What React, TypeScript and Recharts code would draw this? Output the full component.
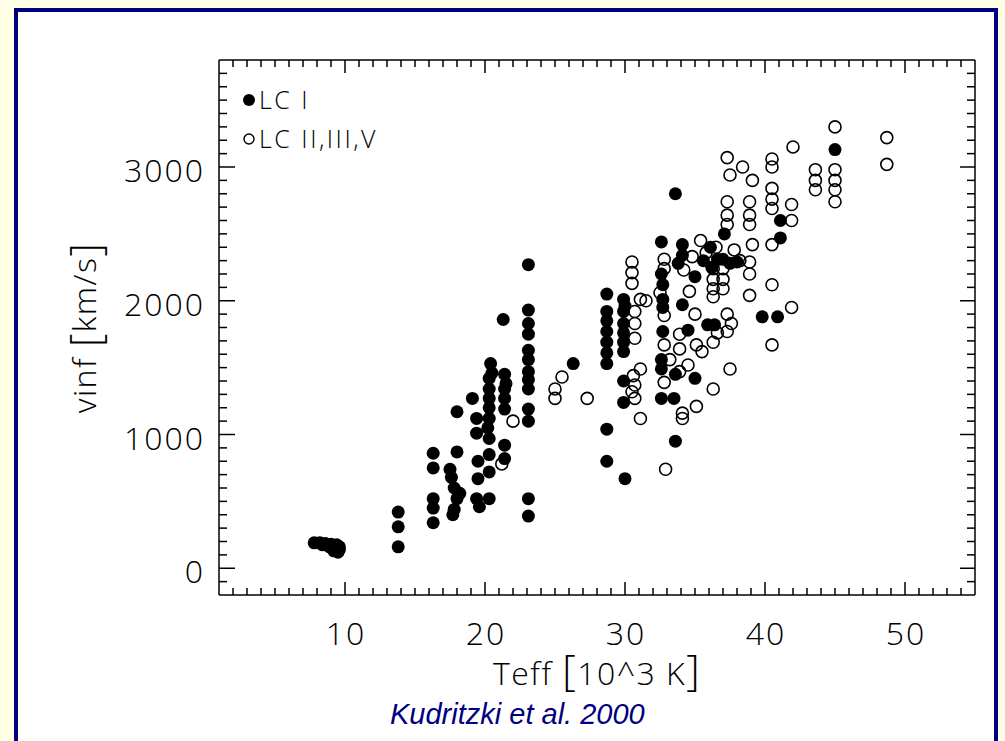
import { ScatterChart, Scatter, XAxis, YAxis, Legend } from "recharts";

// Teff [10^3 K], vinf [km/s]
const lcI: [number, number][] = [
  [7.8, 190], [8.2, 190], [8.4, 175], [8.6, 185], [8.9, 160], [9.0, 180], [9.2, 130], [9.3, 150],
  [9.4, 175], [9.6, 160], [9.6, 140], [9.5, 120],
  [13.8, 420], [13.8, 310], [13.8, 160],
  [16.3, 860], [16.3, 750], [16.3, 520], [16.3, 450], [16.3, 340],
  [17.5, 740], [18.0, 870], [18.0, 1170], [17.6, 680], [17.8, 600], [18.0, 520], [17.8, 440],
  [18.2, 560], [17.7, 400],
  [19.1, 1270], [19.4, 1120], [19.4, 1010], [19.5, 800], [19.5, 670], [19.4, 520], [19.6, 460],
  [20.4, 1530], [20.3, 1420], [20.3, 1340], [20.3, 1270], [20.3, 1200], [20.3, 1120], [20.3, 970],
  [20.3, 850], [20.3, 720], [20.3, 520], [20.5, 1460], [20.2, 1050],
  [21.3, 1860], [21.4, 1450], [21.4, 1340], [21.4, 1270], [21.4, 1190], [21.4, 920], [21.4, 820],
  [21.5, 1380],
  [23.1, 2270], [23.1, 1930], [23.1, 1830], [23.1, 1750], [23.1, 1630], [23.1, 1560], [23.1, 1470],
  [23.1, 1410], [23.1, 1340], [23.1, 1190], [23.1, 1100], [23.1, 520], [23.1, 390],
  [26.3, 1530],
  [28.7, 2050], [28.7, 1920], [28.7, 1850], [28.7, 1770], [28.7, 1690], [28.7, 1610], [28.7, 1530],
  [28.7, 1040], [28.7, 800],
  [30.0, 670], [29.9, 2010], [29.9, 1920], [29.9, 1830], [29.9, 1760], [29.9, 1690], [29.9, 1620],
  [29.9, 1400], [29.9, 1240], [30.0, 1960],
  [33.6, 2800], [32.6, 2440], [32.7, 2120], [32.7, 2010], [32.7, 1770], [32.6, 1560], [32.6, 1490],
  [32.6, 1270], [32.7, 1950], [32.6, 2200], [33.6, 950], [34.1, 2420], [34.1, 2340], [34.1, 1970],
  [35.0, 2180], [36.1, 2400], [36.6, 2310], [37.0, 2310], [37.1, 2500], [33.6, 1450], [35.0, 1420],
  [33.5, 1270], [33.8, 2280], [35.6, 2300], [36.2, 2250], [35.9, 1820], [36.4, 1820], [37.5, 2280],
  [38.0, 2290], [34.5, 1780],
  [41.1, 2600], [41.1, 2470], [39.8, 1880], [40.9, 1880], [45.0, 3130],
];

const lcOther: [number, number][] = [
  [22.0, 1100], [21.2, 780], [25.5, 1430], [25.0, 1340], [25.0, 1270], [27.3, 1270],
  [30.5, 2290], [30.5, 2210], [30.5, 2130], [30.7, 1920], [30.7, 1830], [30.7, 1720], [31.1, 2010],
  [31.1, 1490], [30.7, 1370], [30.7, 1270], [31.1, 1120], [30.5, 1320], [30.6, 1440],
  [32.9, 740], [32.8, 2310], [32.8, 2240], [32.8, 1890], [32.8, 1670], [32.8, 1390], [33.9, 1750],
  [33.9, 1640], [34.6, 2070], [35.4, 2450], [33.9, 1470], [36.3, 1340], [34.1, 1160], [34.1, 1120],
  [35.1, 1210], [35.1, 1670], [35.5, 1620], [36.3, 1690], [37.5, 1490],
  [36.3, 2240], [36.3, 2160], [36.3, 2090], [36.3, 2030], [37.0, 2240], [37.0, 2160], [37.0, 2090],
  [37.3, 2740], [37.3, 2640], [37.3, 2570], [38.9, 2740], [38.9, 2640], [38.9, 2570], [37.3, 3070],
  [37.5, 2940], [38.4, 3000], [39.1, 2900], [40.5, 3060], [40.5, 3000], [40.5, 2840], [40.5, 2760],
  [40.5, 2690], [41.9, 2720], [41.9, 2600], [40.5, 2420], [39.1, 2420], [38.9, 2290], [38.9, 2200],
  [38.9, 2040], [40.5, 2120], [41.9, 1950], [40.5, 1670], [37.3, 1900], [37.3, 1770], [37.6, 1830],
  [45.0, 3300], [45.0, 2980], [45.0, 2900], [45.0, 2830], [45.0, 2740], [43.6, 2980], [43.6, 2900],
  [43.6, 2830], [48.7, 3220], [48.7, 3020], [42.0, 3150],
  [34.8, 2330], [35.8, 2360], [36.5, 2400], [34.2, 2230], [37.8, 2380], [38.2, 2300], [32.5, 2060],
  [31.5, 2000], [35.0, 1900], [36.6, 1760], [33.2, 1560], [34.5, 1520],
];

const seriesNames = ["LC I", "LC II,III,V"];
const xMajor = [10, 20, 30, 40, 50];
const yMajor = [0, 1000, 2000, 3000];
const xDomain = [1, 55];
const yDomain = [-200, 3800];
const xTicks = Array.from({ length: 53 }, (_, i) => i + 2);
const yTicks = Array.from({ length: 39 }, (_, i) => -100 + i * 100);

const FONT = "'Open Sans', 'DejaVu Sans', sans-serif";
const INK = "#000";

const toPoints = (rows: [number, number][]) => rows.map(([x, y]) => ({ x, y }));

function BottomTick({ x, y, payload }: any) {
  const major = xMajor.includes(payload.value);
  return (
    <g>
      <line x1={x} x2={x} y1={y} y2={y - (major ? 13 : 7)} stroke="#000" strokeWidth={1.5} />
      {major && (
        <text x={x + 1} y={y + 50} textAnchor="middle" fontFamily={FONT} fontWeight={300} fontSize={32} letterSpacing={2} fill={INK}>
          {payload.value}
        </text>
      )}
    </g>
  );
}

function TopTick({ x, y, payload }: any) {
  const major = xMajor.includes(payload.value);
  return <line x1={x} x2={x} y1={y} y2={y + (major ? 13 : 7)} stroke="#000" strokeWidth={1.5} />;
}

function LeftTick({ x, y, payload }: any) {
  const major = yMajor.includes(payload.value);
  return (
    <g>
      <line x1={x} x2={x + (major ? 16 : 8)} y1={y} y2={y} stroke="#000" strokeWidth={1.5} />
      {major && (
        <text x={x - 14} y={y + 15} textAnchor="end" fontFamily={FONT} fontWeight={300} fontSize={32} letterSpacing={2} fill={INK}>
          {payload.value}
        </text>
      )}
    </g>
  );
}

function RightTick({ x, y, payload }: any) {
  const major = yMajor.includes(payload.value);
  return <line x1={x} x2={x - (major ? 15 : 8)} y1={y} y2={y} stroke="#000" strokeWidth={1.5} />;
}

function XTitle({ viewBox }: any) {
  const cx = viewBox.x + viewBox.width / 2;
  return (
    <text x={cx} y={viewBox.y + 90} textAnchor="middle" fontFamily={FONT} fontWeight={300} fontSize={32} letterSpacing={1.5} fill={INK}>
      Teff <tspan fontSize={42}>[</tspan>10^3 K<tspan fontSize={42}>]</tspan>
    </text>
  );
}

function YTitle({ viewBox }: any) {
  const cx = viewBox.x + viewBox.width - 136;
  const cy = viewBox.y + viewBox.height / 2;
  return (
    <text
      x={cx}
      y={cy}
      transform={`rotate(-90 ${cx} ${cy})`}
      textAnchor="middle"
      dominantBaseline="central"
      fontFamily={FONT}
      fontWeight={300}
      fontSize={32}
      letterSpacing={1.5}
      fill={INK}
    >
      vinf <tspan fontSize={42}>[</tspan>km/s<tspan fontSize={42}>]</tspan>
    </text>
  );
}

function FilledDot({ cx, cy }: any) {
  return <circle cx={cx} cy={cy} r={6.5} fill="#000" />;
}

function OpenDot({ cx, cy }: any) {
  return <circle cx={cx} cy={cy} r={6} fill="none" stroke="#000" strokeWidth={1.6} />;
}

function NoDot() {
  return <g />;
}

function LegendBox({ payload }: any) {
  const items = (payload || []).filter((p: any) => seriesNames.includes(p.value));
  return (
    <div style={{ fontFamily: FONT, fontWeight: 300, fontSize: 25, letterSpacing: 2.5, color: INK }}>
      {items.map((p: any, i: number) => (
        <div key={i} style={{ display: "flex", alignItems: "center", height: 39 }}>
          <svg width={14} height={14} style={{ display: "block" }}>
            {i === 0 ? (
              <circle cx={7} cy={7} r={6} fill="#000" />
            ) : (
              <circle cx={7} cy={7} r={5} fill="none" stroke="#000" strokeWidth={1.4} />
            )}
          </svg>
          <span style={{ marginLeft: 3, lineHeight: "39px" }}>{p.value}</span>
        </div>
      ))}
    </div>
  );
}

export default function App() {
  return (
    <div
      style={{
        position: "absolute",
        left: 0,
        top: 0,
        width: 1005,
        height: 741,
        overflow: "hidden",
        background: "#FFFFE6",
      }}
    >
      <div
        style={{
          position: "absolute",
          left: 14,
          top: 8,
          width: 984,
          height: 800,
          boxSizing: "border-box",
          border: "4px solid #00007F",
          background: "#fff",
        }}
      />
      <div style={{ position: "absolute", left: 0, top: 0 }}>
        <ScatterChart width={1005} height={741} margin={{ top: 59, right: 29, bottom: 86, left: 139 }}>
          <XAxis
            xAxisId="b"
            type="number"
            dataKey="x"
            domain={xDomain}
            ticks={xTicks}
            interval={0}
            height={60}
            tickSize={0}
            tickMargin={0}
            tickLine={false}
            axisLine={{ stroke: "#000", strokeWidth: 1.5 }}
            tick={BottomTick}
            label={XTitle}
          />
          <XAxis
            xAxisId="t"
            orientation="top"
            type="number"
            dataKey="x"
            domain={xDomain}
            ticks={xTicks}
            interval={0}
            height={1}
            tickSize={0}
            tickMargin={0}
            tickLine={false}
            axisLine={{ stroke: "#000", strokeWidth: 1.5 }}
            tick={TopTick}
          />
          <YAxis
            yAxisId="l"
            type="number"
            dataKey="y"
            domain={yDomain}
            ticks={yTicks}
            interval={0}
            width={80}
            tickSize={0}
            tickMargin={0}
            tickLine={false}
            axisLine={{ stroke: "#000", strokeWidth: 1.5 }}
            tick={LeftTick}
            label={YTitle}
          />
          <YAxis
            yAxisId="r"
            orientation="right"
            type="number"
            dataKey="y"
            domain={yDomain}
            ticks={yTicks}
            interval={0}
            width={1}
            tickSize={0}
            tickMargin={0}
            tickLine={false}
            axisLine={{ stroke: "#000", strokeWidth: 1.5 }}
            tick={RightTick}
          />
          <Legend
            layout="vertical"
            align="center"
            verticalAlign="middle"
            wrapperStyle={{ left: 242, top: 80, width: 220 }}
            content={LegendBox}
          />
          <Scatter
            name={seriesNames[0]}
            data={toPoints(lcI)}
            xAxisId="b"
            yAxisId="l"
            shape={FilledDot}
            isAnimationActive={false}
          />
          <Scatter
            name={seriesNames[1]}
            data={toPoints(lcOther)}
            xAxisId="b"
            yAxisId="l"
            shape={OpenDot}
            isAnimationActive={false}
          />
          <Scatter
            name="frame"
            data={toPoints(lcI)}
            xAxisId="t"
            yAxisId="r"
            shape={NoDot}
            legendType="none"
            isAnimationActive={false}
          />
        </ScatterChart>
      </div>
      <div
        style={{
          position: "absolute",
          left: 390,
          top: 698,
          fontFamily: "'Liberation Sans', Arial, sans-serif",
          fontStyle: "italic",
          fontSize: 29,
          color: "#000080",
          whiteSpace: "nowrap",
        }}
      >
        Kudritzki et al. 2000
      </div>
    </div>
  );
}
